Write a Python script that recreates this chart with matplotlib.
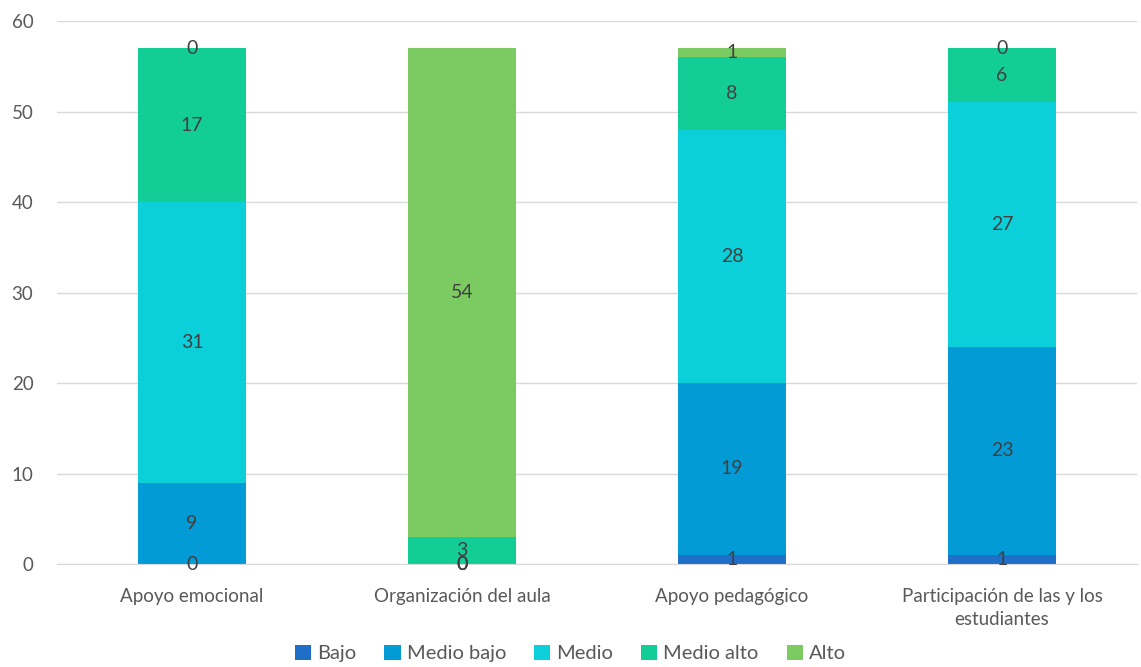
import numpy as np
from matplotlib import pyplot as plt

plt.rcParams['font.family'] = ['Lato', 'DejaVu Sans']

categories = ['Apoyo emocional', 'Organización del aula', 'Apoyo pedagógico',
              'Participación de las y los\nestudiantes']
series = ['Bajo', 'Medio bajo', 'Medio', 'Medio alto', 'Alto']
bajo = [0, 0, 1, 1]
medio_bajo = [9, 0, 19, 23]
medio = [31, 0, 28, 27]
medio_alto = [17, 3, 8, 6]
alto = [0, 54, 1, 0]
colors = ['#1F6FC8', '#039BD6', '#0BCFD9', '#12CE96', '#7CCB62']

fig = plt.figure(figsize=(11.41, 6.67), dpi=100)
ax = fig.add_axes([0.05, 0.1544, 0.9465, 0.8141])

x = np.arange(len(categories))
bottom = np.zeros(len(categories))
for name, vals, c in zip(series, [bajo, medio_bajo, medio, medio_alto, alto], colors):
    vals = np.array(vals, dtype=float)
    ax.bar(x, vals, width=0.4, bottom=bottom, color=c, label=name, zorder=2)
    for xi, b, v in zip(x, bottom, vals):
        ax.text(xi, b + v / 2, f'{int(v)}', ha='center', va='center',
                fontsize=14, color='#404040', zorder=3)
    bottom += vals

ax.set_xlim(-0.5, len(categories) - 0.5)
ax.set_ylim(0, 60)
ax.set_yticks(range(0, 61, 10))
ax.yaxis.grid(True, color='#D9D9D9', linewidth=1, zorder=0)
ax.set_axisbelow(True)
for s in ['top', 'right', 'left']:
    ax.spines[s].set_visible(False)
ax.spines['bottom'].set_color('#D9D9D9')
ax.tick_params(axis='both', length=0, labelsize=13.5, colors='#595959')
ax.tick_params(axis='y', pad=17)
ax.tick_params(axis='x', pad=17)
ax.set_xticks(x)
ax.set_xticklabels(categories, linespacing=1.45)

fig.legend(loc='lower center', bbox_to_anchor=(0.5, -0.02), ncol=5, frameon=False,
           fontsize=14.5, labelcolor='#595959', handlelength=0.8, handleheight=0.8,
           handletextpad=0.3, columnspacing=1.4)

fig.savefig('out.png', dpi=100)
